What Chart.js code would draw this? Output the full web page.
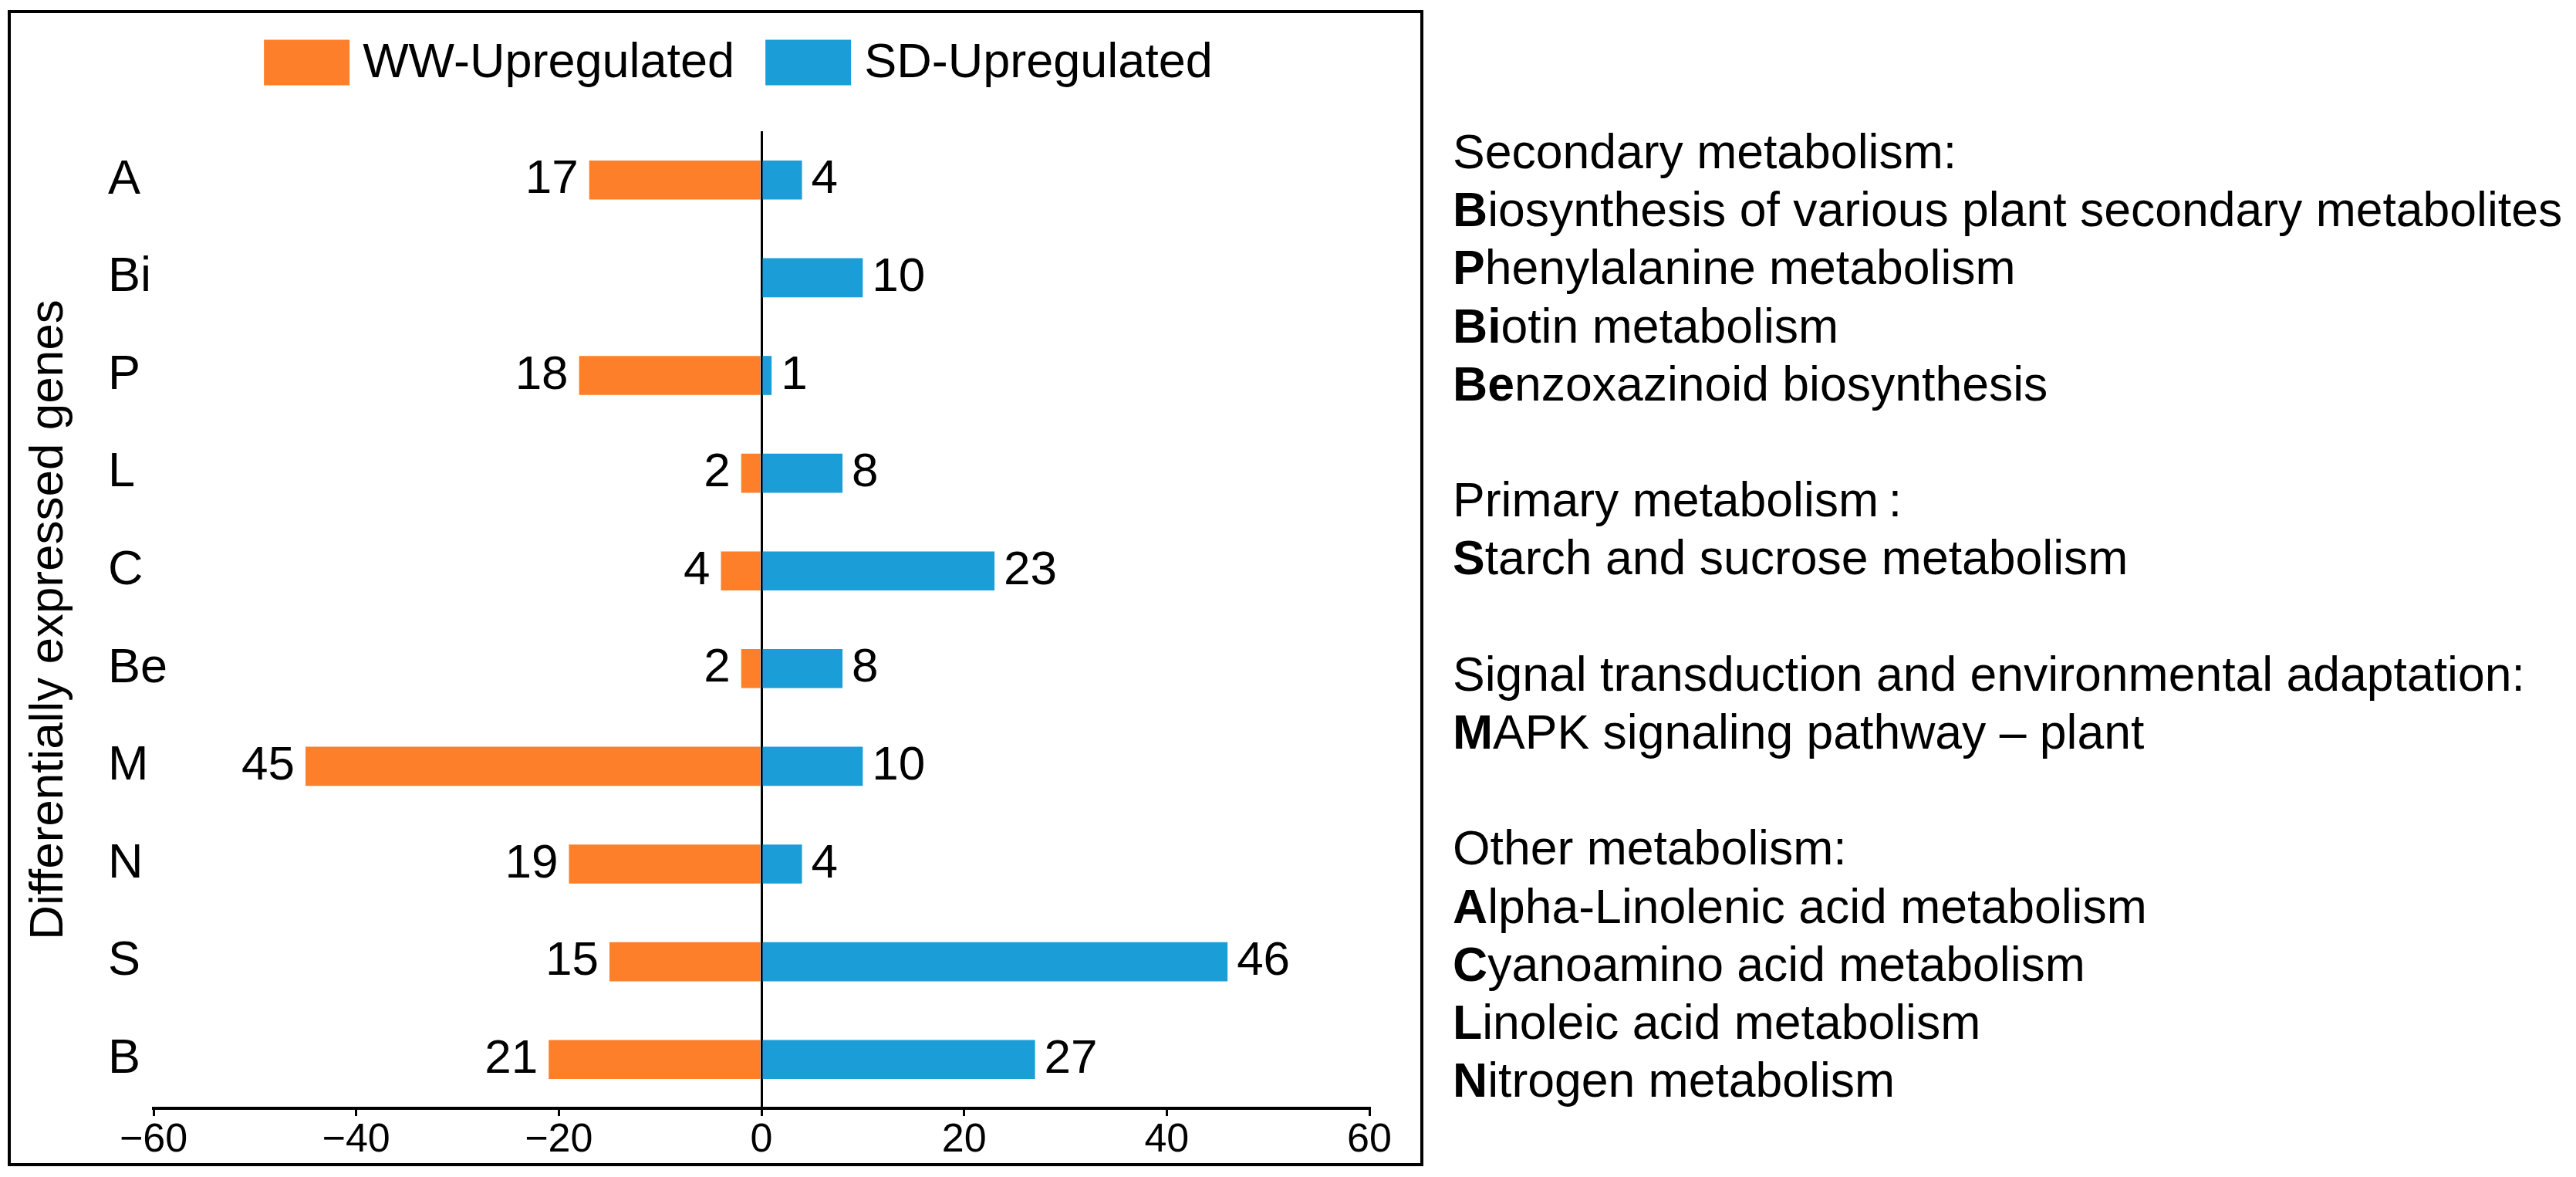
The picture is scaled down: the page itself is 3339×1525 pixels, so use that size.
<!DOCTYPE html>
<html lang="en">
<head>
    <meta charset="UTF-8">
    <title>Differentially expressed genes by pathway</title>
    <script src="https://cdn.jsdelivr.net/npm/chart.js"></script>
    <style>
        body {
            margin: 0;
            background: #fff;
            font-family: 'Liberation Sans', Arial, sans-serif;
            width: 3339px;
            height: 1525px;
            position: relative;
            overflow: hidden;
        }
        .frame {
            position: absolute;
            left: 10px;
            top: 13px;
            width: 1827px;
            height: 1490px;
            border: 4px solid #000;
        }
        .frame canvas {
            position: absolute;
            left: 0;
            top: 0;
        }
        .key {
            position: absolute;
            left: 1883px;
            top: 159px;
            font-size: 62.5px;
            line-height: 75.2px;
            color: #000;
            white-space: nowrap;
        }
        .key p {
            margin: 0;
        }
        .key .gap {
            height: 75.2px;
        }
    </style>
</head>
<body>
    <div class="frame">
        <canvas id="degChart" width="1827" height="1490"></canvas>
    </div>

    <div class="key">
        <p>Secondary metabolism:</p>
        <p><b>B</b>iosynthesis of various plant secondary metabolites</p>
        <p><b>P</b>henylalanine metabolism</p>
        <p><b>Bi</b>otin metabolism</p>
        <p><b>Be</b>nzoxazinoid biosynthesis</p>
        <div class="gap"></div>
        <p>Primary metabolism&#8201;:</p>
        <p><b>S</b>tarch and sucrose metabolism</p>
        <div class="gap"></div>
        <p>Signal transduction and environmental adaptation:</p>
        <p><b>M</b>APK signaling pathway – plant</p>
        <div class="gap"></div>
        <p>Other metabolism:</p>
        <p><b>A</b>lpha-Linolenic acid metabolism</p>
        <p><b>C</b>yanoamino acid metabolism</p>
        <p><b>L</b>inoleic acid metabolism</p>
        <p><b>N</b>itrogen metabolism</p>
    </div>

    <script>
        // pathway codes, top to bottom
        const pathways = ['A', 'Bi', 'P', 'L', 'C', 'Be', 'M', 'N', 'S', 'B'];
        // gene counts per pathway
        const wwUpregulated = [17, 0, 18, 2, 4, 2, 45, 19, 15, 21];
        const sdUpregulated = [4, 10, 1, 8, 23, 8, 10, 4, 46, 27];
        const xTicks = [-60, -40, -20, 0, 20, 40, 60];

        const FONT = "'Liberation Sans', Arial, sans-serif";
        const ORANGE = '#FE7F2A';
        const BLUE = '#1B9DD8';

        // numbers at the end of each bar
        const valueLabels = {
            id: 'valueLabels',
            afterDatasetsDraw(chart) {
                const ctx = chart.ctx;
                ctx.save();
                ctx.font = '62px ' + FONT;
                ctx.fillStyle = '#000';
                ctx.textBaseline = 'middle';
                chart.data.datasets.forEach((ds, i) => {
                    chart.getDatasetMeta(i).data.forEach((bar, j) => {
                        const v = ds.data[j];
                        if (!v) return;
                        if (v < 0) {
                            ctx.textAlign = 'right';
                            ctx.fillText(String(-v), bar.x - 14, bar.y);
                        } else {
                            ctx.textAlign = 'left';
                            ctx.fillText(String(v), bar.x + 12, bar.y);
                        }
                    });
                });
                ctx.restore();
            }
        };

        // legend row above the plot
        const topLegend = {
            id: 'topLegend',
            afterDraw(chart) {
                const ctx = chart.ctx;
                const boxW = 111, boxH = 59, textGap = 17, itemGap = 40;
                const centerX = 943, centerY = 64;
                ctx.save();
                ctx.font = '63px ' + FONT;
                const items = chart.data.datasets.map(ds => ({
                    text: ds.label,
                    color: ds.backgroundColor,
                    w: ctx.measureText(ds.label).width
                }));
                let total = 0;
                items.forEach((it, i) => {
                    total += boxW + textGap + it.w + (i > 0 ? itemGap : 0);
                });
                let x = centerX - total / 2;
                ctx.textBaseline = 'middle';
                ctx.textAlign = 'left';
                items.forEach(it => {
                    ctx.fillStyle = it.color;
                    ctx.fillRect(x, centerY - boxH / 2, boxW, boxH);
                    ctx.fillStyle = '#000';
                    ctx.fillText(it.text, x + boxW + textGap, centerY + 2);
                    x += boxW + textGap + it.w + itemGap;
                });
                ctx.restore();
            }
        };

        new Chart(document.getElementById('degChart'), {
            type: 'bar',
            data: {
                labels: pathways,
                datasets: [{
                    label: 'WW-Upregulated',
                    data: wwUpregulated.map(v => -v),
                    backgroundColor: ORANGE,
                    categoryPercentage: 1,
                    barPercentage: 0.4
                }, {
                    label: 'SD-Upregulated',
                    data: sdUpregulated,
                    backgroundColor: BLUE,
                    categoryPercentage: 1,
                    barPercentage: 0.4
                }]
            },
            options: {
                indexAxis: 'y',
                responsive: false,
                animation: false,
                devicePixelRatio: 1,
                layout: {
                    padding: { top: 153, left: 126, right: 66, bottom: 0 }
                },
                plugins: {
                    legend: { display: false },
                    tooltip: { enabled: false }
                },
                scales: {
                    x: {
                        stacked: true,
                        min: -60,
                        max: 60,
                        afterBuildTicks: scale => {
                            scale.ticks = xTicks.map(v => ({ value: v }));
                        },
                        afterFit: scale => { scale.height = 71; },
                        border: { display: true, color: '#000', width: 4 },
                        grid: {
                            color: c => (c.tick && c.tick.value === 0 ? '#000' : 'rgba(0,0,0,0)'),
                            lineWidth: 3,
                            drawTicks: true,
                            tickLength: 10,
                            tickColor: '#000',
                            tickWidth: 3
                        },
                        ticks: {
                            color: '#000',
                            padding: 6,
                            maxRotation: 0,
                            font: { family: FONT, size: 52, lineHeight: 1 },
                            callback: v => (v < 0 ? '\u2212' + Math.abs(v) : String(v))
                        }
                    },
                    y: {
                        stacked: true,
                        afterFit: scale => { scale.width = 59; },
                        border: { display: false },
                        grid: { display: false },
                        title: {
                            display: true,
                            text: 'Differentially expressed genes',
                            color: '#000',
                            font: { family: FONT, size: 62, lineHeight: 1 },
                            padding: { top: -107, bottom: 0 }
                        },
                        ticks: {
                            color: '#000',
                            mirror: true,
                            crossAlign: 'near',
                            padding: -59,
                            autoSkip: false,
                            font: { family: FONT, size: 63 }
                        }
                    }
                }
            },
            plugins: [valueLabels, topLegend]
        });
    </script>
</body>
</html>
